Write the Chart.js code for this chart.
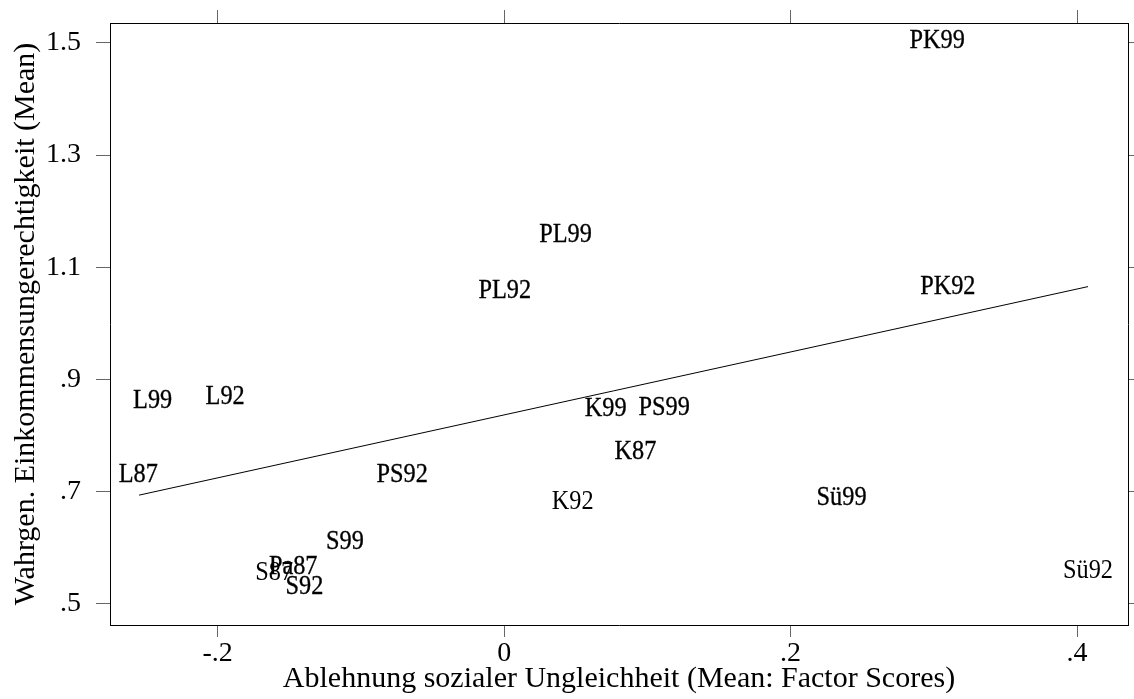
<!DOCTYPE html>
<html>
<head>
    <title>Wahrgen. Einkommensungerechtigkeit</title>
    <style>
        body {
            margin: 0;
            background: #fff;
        }
    </style>
</head>
<body>
    <canvas id="scatterChart" width="1134" height="699"></canvas>

    <script src="https://cdn.jsdelivr.net/npm/chart.js"></script>
    <script>
        // point labels and their means
        const pointLabels = ['L87', 'L92', 'L99', 'PS92', 'PS99', 'S87', 'S92', 'S99', 'Pa87',
                             'K87', 'K92', 'K99', 'PL92', 'PL99', 'PK92', 'PK99', 'Sü92', 'Sü99'];
        const xValues = [-0.2555, -0.1948, -0.2454, -0.0712, 0.1117, -0.1606, -0.1394, -0.1112, -0.1473,
                         0.0917, 0.0479, 0.0709, 0.0004, 0.0429, 0.3098, 0.3024, 0.4077, 0.2356];
        const yValues = [0.733, 0.872, 0.865, 0.733, 0.853, 0.559, 0.534, 0.614, 0.568,
                         0.774, 0.684, 0.850, 1.061, 1.161, 1.069, 1.507, 0.561, 0.692];

        // fitted line end points
        const fitX = [-0.2549, 0.4077];
        const fitY = [0.6936, 1.0655];

        const xTicks = [-0.2, 0, 0.2, 0.4];
        const xTickLabels = ['-.2', '0', '.2', '.4'];
        const yTicks = [0.5, 0.7, 0.9, 1.1, 1.3, 1.5];
        const yTickLabels = ['.5', '.7', '.9', '1.1', '1.3', '1.5'];

        const serif = '"Liberation Serif", "Times New Roman", serif';
        const lightLabels = ['K92', 'Sü92', 'S87']; // drawn thinner in the original

        const xMin = -0.2752, xMax = 0.4356;
        const yMin = 0.462, yMax = 1.5356;

        // draws the text markers centred on each point
        const labelPlugin = {
            id: 'pointText',
            afterDatasetsDraw(chart) {
                const ctx = chart.ctx;
                const xs = chart.scales.x, ys = chart.scales.y;
                const size = 27;
                ctx.save();
                ctx.font = size + 'px ' + serif;
                ctx.textAlign = 'center';
                ctx.textBaseline = 'alphabetic';
                ctx.fillStyle = '#000';
                ctx.strokeStyle = '#000';
                ctx.lineWidth = 0.35;
                pointLabels.forEach((lab, i) => {
                    const px = xs.getPixelForValue(xValues[i]);
                    const py = ys.getPixelForValue(yValues[i]);
                    ctx.save();
                    ctx.translate(px, py + size * 0.33);
                    ctx.scale(0.9, 1);
                    ctx.fillText(lab, 0, 0);
                    if (!lightLabels.includes(lab)) ctx.strokeText(lab, 0, 0);
                    ctx.restore();
                });
                ctx.restore();
            }
        };

        const tickGrid = (len) => ({
            drawOnChartArea: false,
            drawTicks: true,
            tickLength: len,
            color: '#666',
            lineWidth: 1
        });
        const frame = { display: true, color: '#000', width: 1 };

        // fixed box sizes so the plot area sits where it does in the original
        const fitBox = (w, h) => (s) => {
            if (w !== null) s.width = w;
            if (h !== null) s.height = h;
            s.paddingTop = 0;
            s.paddingBottom = 0;
            s.paddingLeft = 0;
            s.paddingRight = 0;
        };

        const ctx = document.getElementById('scatterChart').getContext('2d');
        new Chart(ctx, {
            type: 'scatter',
            data: {
                datasets: [{
                    label: 'Means',
                    data: xValues.map((x, i) => ({ x: x, y: yValues[i] })),
                    pointRadius: 0,
                    pointHoverRadius: 0
                }, {
                    label: 'Fitted values',
                    data: fitX.map((x, i) => ({ x: x, y: fitY[i] })),
                    showLine: true,
                    borderColor: '#000',
                    borderWidth: 1,
                    pointRadius: 0
                }]
            },
            options: {
                responsive: false,
                animation: false,
                devicePixelRatio: 1,
                layout: { padding: 0 },
                plugins: {
                    legend: { display: false },
                    tooltip: { enabled: false }
                },
                scales: {
                    x: {
                        type: 'linear',
                        position: 'bottom',
                        min: xMin,
                        max: xMax,
                        afterBuildTicks: (s) => { s.ticks = xTicks.map(v => ({ value: v })); },
                        afterFit: fitBox(null, 74),
                        grid: tickGrid(12),
                        border: frame,
                        ticks: {
                            padding: 0,
                            color: '#000',
                            font: { family: serif, size: 28 },
                            maxRotation: 0,
                            callback: (v, i) => xTickLabels[i]
                        },
                        title: {
                            display: true,
                            text: 'Ablehnung sozialer Ungleichheit (Mean: Factor Scores)',
                            color: '#000',
                            font: { family: serif, size: 30 },
                            padding: { top: 0, bottom: 2 }
                        }
                    },
                    x2: {
                        type: 'linear',
                        position: 'top',
                        min: xMin,
                        max: xMax,
                        afterBuildTicks: (s) => { s.ticks = xTicks.map(v => ({ value: v })); },
                        afterFit: fitBox(null, 23),
                        grid: tickGrid(13),
                        border: frame,
                        ticks: { display: false }
                    },
                    y: {
                        type: 'linear',
                        position: 'left',
                        min: yMin,
                        max: yMax,
                        afterBuildTicks: (s) => { s.ticks = yTicks.map(v => ({ value: v })); },
                        afterFit: fitBox(110, null),
                        grid: tickGrid(14),
                        border: frame,
                        ticks: {
                            padding: 15,
                            color: '#000',
                            font: { family: serif, size: 28 },
                            callback: (v, i) => yTickLabels[i]
                        },
                        title: {
                            display: true,
                            text: 'Wahrgen. Einkommensungerechtigkeit (Mean)',
                            color: '#000',
                            font: { family: serif, size: 30 },
                            padding: { top: 8, bottom: 0 }
                        }
                    },
                    y2: {
                        type: 'linear',
                        position: 'right',
                        min: yMin,
                        max: yMax,
                        afterBuildTicks: (s) => { s.ticks = yTicks.map(v => ({ value: v })); },
                        afterFit: fitBox(6, null),
                        grid: tickGrid(6),
                        border: frame,
                        ticks: { display: false }
                    }
                }
            },
            plugins: [labelPlugin]
        });
    </script>
</body>
</html>
